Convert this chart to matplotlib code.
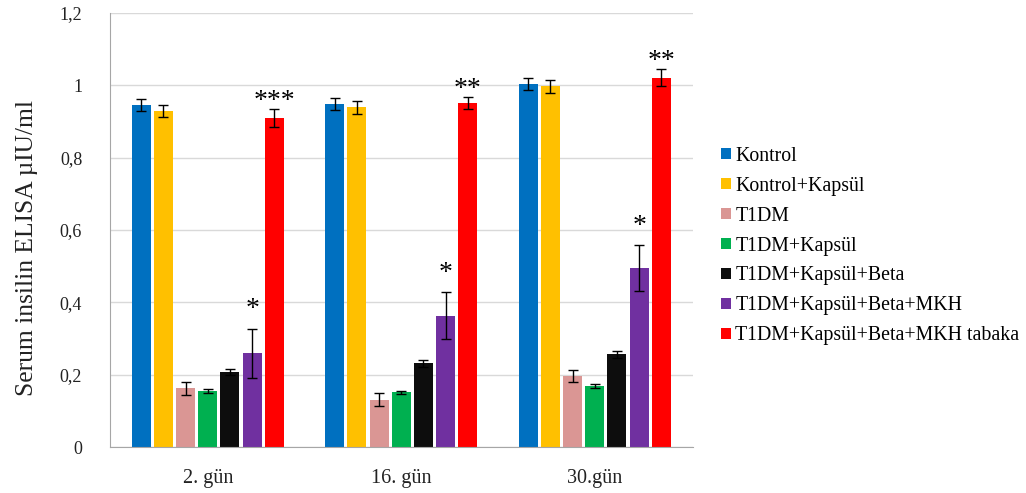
import matplotlib
matplotlib.use("Agg")
import matplotlib.pyplot as plt
import numpy as np
from matplotlib.ticker import FuncFormatter

# Data
days = ["2. gün", "16. gün", "30.gün"]
groups = [
    "Kontrol",
    "Kontrol+Kapsül",
    "T1DM",
    "T1DM+Kapsül",
    "T1DM+Kapsül+Beta",
    "T1DM+Kapsül+Beta+MKH",
    "T1DM+Kapsül+Beta+MKH tabaka",
]
kontrol = [0.945, 0.949, 1.004]
kontrol_kapsul = [0.929, 0.939, 0.998]
t1dm = [0.162, 0.131, 0.197]
t1dm_kapsul = [0.155, 0.151, 0.168]
t1dm_kapsul_beta = [0.207, 0.231, 0.256]
t1dm_kapsul_beta_mkh = [0.259, 0.363, 0.494]
t1dm_kapsul_beta_mkh_tabaka = [0.910, 0.951, 1.021]

err_kontrol = [0.016, 0.017, 0.016]
err_kontrol_kapsul = [0.016, 0.019, 0.018]
err_t1dm = [0.017, 0.017, 0.016]
err_t1dm_kapsul = [0.005, 0.005, 0.005]
err_t1dm_kapsul_beta = [0.009, 0.009, 0.009]
err_t1dm_kapsul_beta_mkh = [0.068, 0.065, 0.064]
err_t1dm_kapsul_beta_mkh_tabaka = [0.024, 0.016, 0.024]

sig_mkh = ["*", "*", "*"]
sig_tabaka = ["***", "**", "**"]

values = [kontrol, kontrol_kapsul, t1dm, t1dm_kapsul, t1dm_kapsul_beta,
          t1dm_kapsul_beta_mkh, t1dm_kapsul_beta_mkh_tabaka]
errors = [err_kontrol, err_kontrol_kapsul, err_t1dm, err_t1dm_kapsul,
          err_t1dm_kapsul_beta, err_t1dm_kapsul_beta_mkh,
          err_t1dm_kapsul_beta_mkh_tabaka]
colors = ["#0070C0", "#FFC000", "#DA9694", "#00B050", "#0D0D0D", "#7030A0", "#FF0000"]

plt.rcParams["font.family"] = ["Liberation Serif", "DejaVu Serif"]

fig = plt.figure(figsize=(10.26, 4.93), dpi=100)
ax = fig.add_axes([0.1072, 0.0933, 0.5683, 0.8803])

x = np.arange(len(days))
pitch = 0.1147
width = 0.098
n = len(groups)
bars = []
for i, (name, v, e, c) in enumerate(zip(groups, values, errors, colors)):
    pos = x + (i - (n - 1) / 2) * pitch
    ax.bar(pos, v, width, color=c, label=name, zorder=2)
    ax.errorbar(pos, v, yerr=e, fmt="none", ecolor="black", elinewidth=1.0,
                capsize=3.5, capthick=1.0, zorder=3)
    bars.append((pos, v, e))

# significance marks above the error bars
for (pos, v, e), marks, off in [(bars[5], sig_mkh, 13.5), (bars[6], sig_tabaka, 5.5)]:
    for p, val, er, m in zip(pos, v, e, marks):
        ax.annotate(m, (p, val + er), xytext=(0, off), textcoords="offset points",
                    ha="center", va="center", fontsize=20)

ax.set_xlim(-0.505, 2.508)
ax.set_ylim(0, 1.2)
ax.set_yticks(np.arange(0, 1.21, 0.2))
ax.yaxis.set_major_formatter(FuncFormatter(
    lambda y, _: "0" if abs(y) < 1e-9 else ("{:g}".format(round(y, 1))).replace(".", ",")))
ax.set_xticks(x)
ax.set_xticklabels(days)
ax.tick_params(axis="both", length=0, colors="#222222")
ax.tick_params(axis="x", pad=16, labelsize=14.5)
ax.tick_params(axis="y", pad=20, labelsize=13)
ax.yaxis.grid(True, color="#D9D9D9", linewidth=1.0, zorder=0)
ax.set_axisbelow(True)
for s in ["top", "right"]:
    ax.spines[s].set_visible(False)
ax.spines["left"].set_color("#A6A6A6")
ax.spines["bottom"].set_color("#A6A6A6")

ax.set_ylabel("Serum insilin ELISA µIU/ml", fontsize=18.4, color="#222222")
ax.yaxis.set_label_coords(-0.1235, 0.4585)

ax.legend(loc="center left", bbox_to_anchor=(1.035, 0.463), frameon=False,
          fontsize=14.3, handlelength=0.5, handleheight=0.5, handletextpad=0.2,
          labelspacing=0.55, borderaxespad=0)

fig.savefig("out.png", dpi=100, facecolor="white")
